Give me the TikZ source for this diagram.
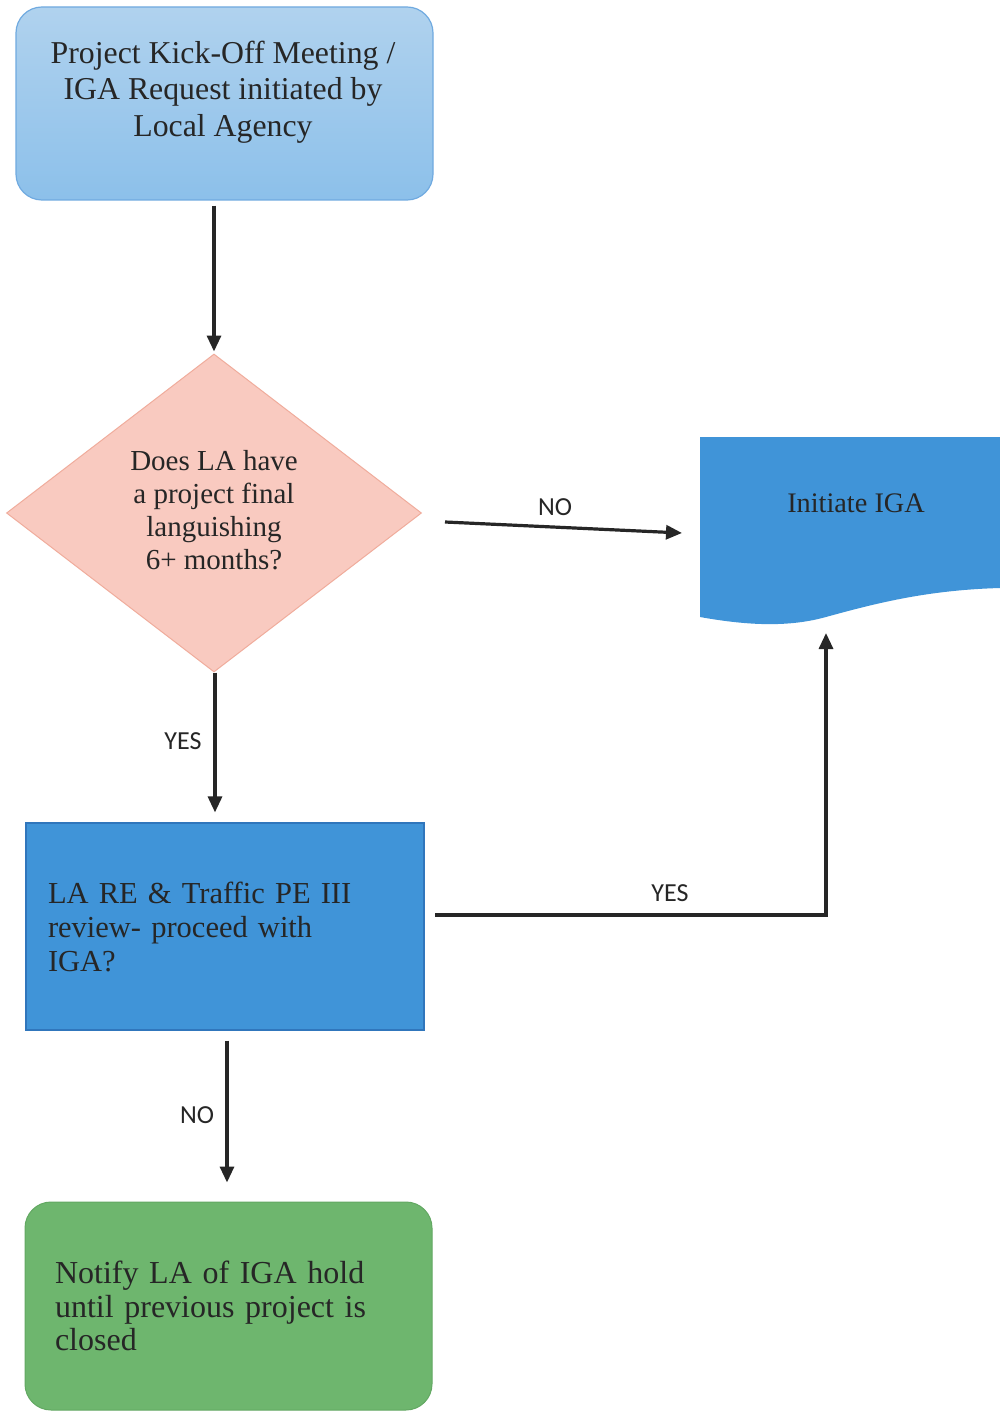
\documentclass[tikz,border=0pt]{standalone}
\usepackage{fontspec}
\setmainfont{Liberation Serif}
\newfontfamily\lblfont{Carlito}
\usetikzlibrary{arrows.meta,shapes.geometric}
\definecolor{topA}{RGB}{176,210,238}
\definecolor{topB}{RGB}{140,192,234}
\definecolor{topline}{RGB}{112,170,224}
\definecolor{pinkfill}{RGB}{249,202,192}
\definecolor{pinkline}{RGB}{240,172,156}
\definecolor{bluefill}{RGB}{64,148,216}
\definecolor{blueline}{RGB}{48,118,188}
\definecolor{greenfill}{RGB}{110,182,110}
\definecolor{greenline}{RGB}{98,168,98}
\definecolor{txt}{RGB}{38,38,38}
\newcommand\myrevfont{\fontsize{30.5}{34}\selectfont\spaceskip=5.8pt plus 1pt\relax}
\newcommand\myholdfont{\fontsize{32}{33.5}\selectfont\spaceskip=7pt plus 1pt\relax}
\begin{document}
\begin{tikzpicture}[x=1pt,y=-1pt,
  arr/.style={line width=3.2pt,draw=txt,-{Triangle[length=16pt,width=14pt]}},
  lbl/.style={font=\lblfont\fontsize{26}{30}\selectfont,text=txt},
  kickbox/.style={draw=topline,line width=1.2pt,rounded corners=26pt,top color=topA,bottom color=topB,
     minimum width=417pt,minimum height=193pt,inner sep=0pt},
  decbox/.style={diamond,draw=pinkline,line width=1pt,fill=pinkfill,minimum width=415pt,minimum height=318pt,
     inner sep=0pt},
  revbox/.style={rectangle,draw=blueline,line width=1.2pt,fill=bluefill,minimum width=398pt,minimum height=207pt,
     inner xsep=22pt,text width=354pt,align=left,text=txt,font=\myrevfont},
  holdbox/.style={rectangle,draw=greenline,line width=1pt,fill=greenfill,rounded corners=26pt,minimum width=407pt,
     minimum height=208pt,inner xsep=30pt,text width=347pt,align=left,text=txt,font=\myholdfont}
]
\useasboundingbox[fill=white] (0,0) rectangle (1000,1412);

% top box
\node[kickbox] (kick) at (224.5,103.5) {};
\node[text=txt,align=center,font=\fontsize{31.8}{36.5}\selectfont] (kicktext) at (223,92)
  {Project Kick-Off Meeting /\\IGA Request initiated by\\Local Agency};

% decision
\node[decbox] (dia) at (214,513) {};
\node[text=txt,align=center,font=\fontsize{29}{33}\selectfont] (diatext) at (214,510)
  {Does LA have\\a project final\\languishing\\6+ months?};

% initiate IGA (document shape)
\fill[bluefill] (700,437) -- (1000,437) -- (1000,588)
   .. controls (930,590) and (880,602) .. (826,617)
   .. controls (790,627) and (750,626) .. (700,617) -- cycle;
\node[text=txt,font=\fontsize{28.3}{32}\selectfont] (iga) at (856,503) {Initiate IGA};
\coordinate (igaB) at (826,633);

% review box
\node[revbox] (rev) at (225,926.5) {LA RE \& Traffic PE III\\review- proceed with\\IGA?};

% hold box
\node[holdbox] (hold) at (228.5,1306) {Notify LA of IGA hold\\until previous project is\\closed};

% connectors
\draw[arr] ([yshift=-5pt]kick.south -| dia.north) -- ([yshift=2pt]dia.north);
\coordinate (noS) at (445,522);
\coordinate (noE) at (682,533);
\draw[arr] (noS) -- (noE);
\node[lbl] (lno1) at (555,507) {NO};

\draw[arr] ([xshift=1pt]dia.south) -- ([xshift=1pt,yshift=10pt]dia.south |- rev.north);
\node[lbl] (lyes1) at (183,741) {YES};

\coordinate (yesS) at (435,915);
\draw[arr] (yesS) -| (igaB);
\node[lbl] (lyes2) at (670,893) {YES};

\draw[arr] ([xshift=2pt,yshift=-10pt]rev.south) -- ([xshift=-1.5pt,yshift=19pt]hold.north);
\node[lbl] (lno2) at (197,1115) {NO};
\end{tikzpicture}
\end{document}
